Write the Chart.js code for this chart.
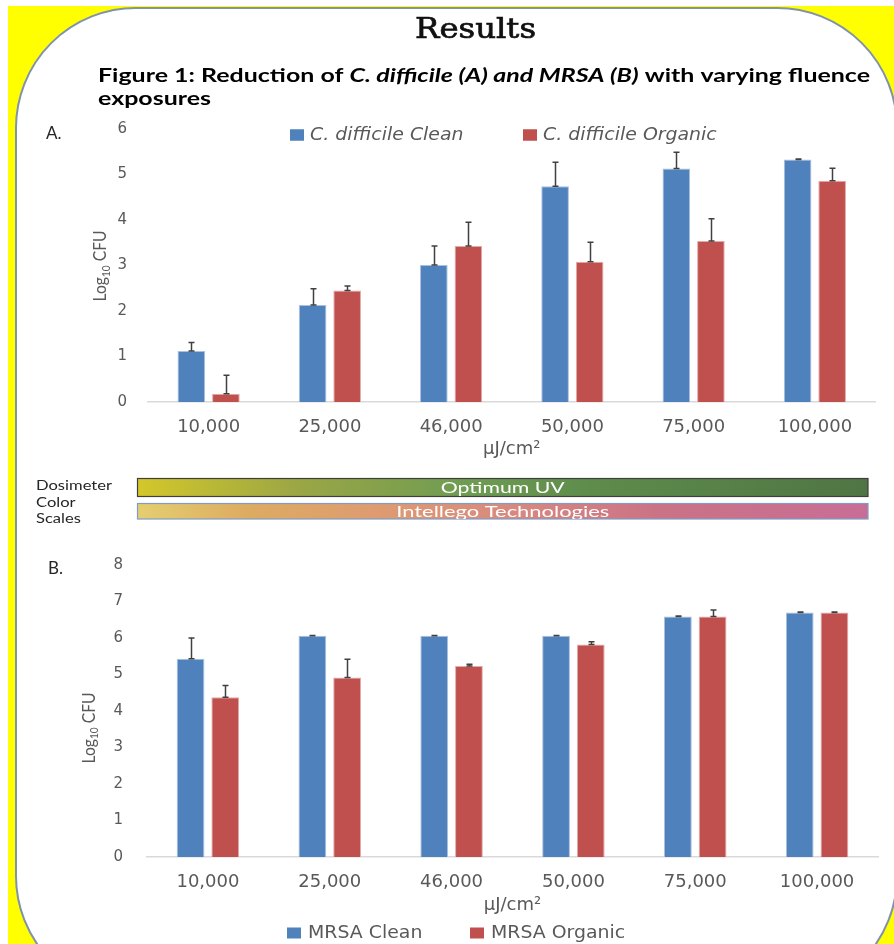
<!DOCTYPE html>
<html>
<head>
<meta charset="utf-8">
<title>Results – log reduction by fluence</title>
<script src="https://cdn.jsdelivr.net/npm/chart.js@4.4.1/dist/chart.umd.min.js"></script>
<style>
  html, body { margin: 0; padding: 0; background: #fff; }
  #page { position: relative; width: 894px; height: 944px; overflow: hidden; }
  canvas { position: absolute; left: 0; display: block; }
  #bg { top: 0; }
  #chartA { top: 110px; }
  #chartB { top: 550px; }
  .preload { position: absolute; left: -9999px; top: 0; font-family: Lato; }
</style>
</head>
<body>
<div id="page">
  <canvas id="bg" width="894" height="944"></canvas>
  <canvas id="chartA" width="894" height="352"></canvas>
  <canvas id="chartB" width="894" height="394"></canvas>
</div>
<span class="preload">Lato <b>Lato</b> <b><i>Lato</i></b></span>
<script>
// Fluence categories (µJ/cm²)
const fluenceLabels = ['10,000', '25,000', '46,000', '50,000', '75,000', '100,000'];

// Panel A – C. difficile, log10 CFU reduction (mean and +SD)
const cdiffClean      = [1.12, 2.13, 3.01, 4.74, 5.13, 5.33];
const cdiffCleanErr   = [0.19, 0.36, 0.42, 0.53, 0.36, 0.01];
const cdiffOrganic    = [0.18, 2.45, 3.43, 3.08, 3.54, 4.86];
const cdiffOrganicErr = [0.41, 0.10, 0.52, 0.43, 0.49, 0.28];

// Panel B – MRSA, log10 CFU reduction (mean and +SD)
const mrsaClean       = [5.43, 6.06, 6.06, 6.06, 6.59, 6.70];
const mrsaCleanErr    = [0.57, 0.01, 0.01, 0.01, 0.01, 0.01];
const mrsaOrganic     = [4.38, 4.92, 5.23, 5.82, 6.59, 6.70];
const mrsaOrganicErr  = [0.32, 0.50, 0.05, 0.08, 0.18, 0.01];

// Value axis ranges
const cdiffAxisMax = 6;
const mrsaAxisMax = 8;
const axisStep = 1;

const BLUE = '#4F81BD';
const RED = '#C0504D';
const GREY_TEXT = '#595959';

/* ---------- poster background, headings and dosimeter scales ---------- */
function drawBackground() {
  const c = document.getElementById('bg').getContext('2d');
  c.fillStyle = '#ffffff';
  c.fillRect(0, 0, 894, 944);
  c.fillStyle = '#FFFF00';
  c.fillRect(8, 6, 894, 944);

  // rounded white panel
  const x0 = 16, y0 = 8, x1 = 897, y1 = 996, r = 120;
  c.beginPath();
  c.moveTo(x0 + r, y0);
  c.lineTo(x1 - r, y0);
  c.arcTo(x1, y0, x1, y0 + r, r);
  c.lineTo(x1, y1 - r);
  c.arcTo(x1, y1, x1 - r, y1, r);
  c.lineTo(x0 + r, y1);
  c.arcTo(x0, y1, x0, y1 - r, r);
  c.lineTo(x0, y0 + r);
  c.arcTo(x0, y0, x0 + r, y0, r);
  c.closePath();
  c.fillStyle = '#ffffff';
  c.fill();
  c.lineWidth = 2;
  c.strokeStyle = '#8093AB';
  c.stroke();

  // text drawn into a fixed width
  function fitText(runs, x, y, width, color, outline) {
    let total = 0;
    runs.forEach(r => { c.font = r.font; r.w = c.measureText(r.text).width; total += r.w; });
    const s = width ? width / total : 1;
    c.save();
    c.translate(x, y);
    c.scale(s, 1);
    c.fillStyle = color;
    c.strokeStyle = color;
    c.lineWidth = outline || 0;
    c.textBaseline = 'alphabetic';
    let cx = 0;
    runs.forEach(r => {
      c.font = r.font;
      c.fillText(r.text, cx, 0);
      if (outline) c.strokeText(r.text, cx, 0);
      cx += r.w;
    });
    c.restore();
    return s;
  }

  fitText([{ text: 'Results', font: '28px "DejaVu Serif"' }], 415, 38, 121, '#111', 0.7);

  const capB = 'bold 18px Lato', capBI = 'italic bold 18px Lato';
  const s = fitText([
    { text: 'Figure 1: Reduction of ', font: capB },
    { text: 'C. difficile (A) and MRSA (B)', font: capBI },
    { text: ' with varying fluence', font: capB }
  ], 98, 82, 772, '#000');
  c.save();
  c.translate(98, 105);
  c.scale(s, 1);
  c.font = capB;
  c.fillStyle = '#000';
  c.fillText('exposures', 0, 0);
  c.restore();

  c.font = '17px Lato';
  c.fillStyle = '#262626';
  c.fillText('A.', 46, 139);
  c.fillText('B.', 48, 574);

  // dosimeter colour scales
  c.font = '13.5px Lato';
  const ds = 76 / c.measureText('Dosimeter').width;
  [['Dosimeter', 490], ['Color', 506.5], ['Scales', 523]].forEach(([t, y]) => {
    c.save(); c.translate(36, y); c.scale(ds, 1);
    c.fillStyle = '#262626'; c.fillText(t, 0, 0); c.restore();
  });

  const bx0 = 137.5, bx1 = 868;
  let g = c.createLinearGradient(bx0, 0, bx1, 0);
  g.addColorStop(0, '#D4C72A');
  g.addColorStop(0.22, '#9BA645');
  g.addColorStop(0.45, '#6E9C52');
  g.addColorStop(0.62, '#5E8C4B');
  g.addColorStop(1, '#4F7544');
  c.fillStyle = g;
  c.fillRect(bx0, 478.5, bx1 - bx0, 18);
  c.lineWidth = 1.2;
  c.strokeStyle = '#3F3F3F';
  c.strokeRect(bx0, 478.5, bx1 - bx0, 18);

  g = c.createLinearGradient(bx0, 0, bx1, 0);
  g.addColorStop(0, '#E4CF70');
  g.addColorStop(0.15, '#DDAB62');
  g.addColorStop(0.32, '#DE9C70');
  g.addColorStop(0.5, '#D98A7E');
  g.addColorStop(0.72, '#CA7286');
  g.addColorStop(1, '#C86E96');
  c.fillStyle = g;
  c.fillRect(bx0, 503.5, bx1 - bx0, 15.5);
  c.strokeStyle = '#7F9DC3';
  c.strokeRect(bx0, 503.5, bx1 - bx0, 15.5);

  const mid = (bx0 + bx1) / 2;
  fitText([{ text: 'Optimum UV', font: '16px Lato' }], mid - 62, 492.5, 124, '#ffffff');
  c.save();
  c.beginPath(); c.rect(bx0, 503.5, bx1 - bx0, 15.5); c.clip();
  fitText([{ text: 'Intellego Technologies', font: '16px Lato' }], mid - 106.5, 516.5, 213, '#ffffff');
  c.restore();
}

/* ---------- chart plugins ---------- */
// upward error bars (mean + SD) with caps
const errorBarPlugin = {
  id: 'errorBars',
  afterDatasetsDraw(chart, args, o) {
    const { ctx } = chart;
    const y = chart.scales.y;
    chart.data.datasets.forEach((ds, i) => {
      if (!ds.errorPlus) return;
      chart.getDatasetMeta(i).data.forEach((bar, j) => {
        const v = ds.data[j];
        const y0 = y.getPixelForValue(v);
        const y1 = y.getPixelForValue(v + ds.errorPlus[j]);
        const x = Math.round(bar.x) + 0.5;
        ctx.save();
        ctx.strokeStyle = o.color;
        ctx.lineWidth = o.width;
        ctx.beginPath();
        ctx.moveTo(x, y0); ctx.lineTo(x, y1);
        ctx.moveTo(x - o.cap, y1); ctx.lineTo(x + o.cap, y1);
        ctx.moveTo(x - o.cap, y0); ctx.lineTo(x + o.cap, y0);
        ctx.stroke();
        ctx.restore();
      });
    });
  }
};

// series key: coloured square + label
const seriesKeyPlugin = {
  id: 'seriesKey',
  afterDraw(chart, args, o) {
    const { ctx } = chart;
    ctx.save();
    ctx.font = o.font;
    ctx.textBaseline = 'middle';
    chart.data.datasets.forEach((ds, i) => {
      const x = o.x[i];
      ctx.fillStyle = ds.backgroundColor;
      ctx.fillRect(x, o.y - o.box[1] / 2, o.box[0], o.box[1]);
      ctx.save();
      ctx.translate(x + o.box[0] + o.gap, o.y);
      ctx.scale(o.stretch, 1);
      ctx.fillStyle = o.color;
      ctx.fillText(ds.label, 0, 0);
      ctx.restore();
    });
    ctx.restore();
  }
};

// vertical axis caption with subscript (Log10 CFU)
const axisCaptionPlugin = {
  id: 'axisCaption',
  afterDraw(chart, args, o) {
    const { ctx, chartArea } = chart;
    const cx = chartArea.left + o.dx;
    const cy = (chartArea.top + chartArea.bottom) / 2 + o.dy;
    const main = `${o.size}px ${o.family}`;
    const sub = `${Math.round(o.size * 0.64)}px ${o.family}`;
    ctx.save();
    ctx.font = main;
    const w1 = ctx.measureText(o.base).width;
    const w3 = ctx.measureText(o.unit).width;
    ctx.font = sub;
    const w2 = ctx.measureText(o.sub).width;
    const total = w1 + w2 + w3;
    ctx.translate(cx, cy);
    ctx.rotate(-Math.PI / 2);
    ctx.scale(o.length / total, 1);
    ctx.fillStyle = o.color;
    ctx.textBaseline = 'alphabetic';
    const base = o.size * 0.36;
    let x = -total / 2;
    ctx.font = main; ctx.fillText(o.base, x, base); x += w1;
    ctx.font = sub; ctx.fillText(o.sub, x, base + o.size * 0.22); x += w2;
    ctx.font = main; ctx.fillText(o.unit, x, base);
    ctx.restore();
  }
};

function makeChart(id, series, axisMax, geom) {
  const chart = new Chart(document.getElementById(id), {
    type: 'bar',
    data: {
      labels: fluenceLabels,
      datasets: series.map(s => ({
        label: s.label,
        data: s.data,
        errorPlus: s.err,
        backgroundColor: s.color,
        borderColor: s.edge,
        borderWidth: 1,
        categoryPercentage: 0.57,
        barPercentage: 0.8
      }))
    },
    options: {
      responsive: false,
      animation: false,
      devicePixelRatio: 1,
      layout: { padding: Object.assign({}, geom.padding) },
      scales: {
        x: {
          grid: { display: false, drawTicks: false },
          border: { display: true, color: '#D9D9D9', width: 1.5 },
          ticks: { color: GREY_TEXT, font: { family: 'DejaVu Sans', size: 18 }, padding: geom.xTickPad, maxRotation: 0 },
          title: { display: true, text: 'µJ/cm²', color: GREY_TEXT,
                   font: { family: 'DejaVu Sans', size: 18 }, padding: { top: 0, bottom: geom.xTitlePad } },
          afterFit(scale) { scale.height = geom.xHeight; }
        },
        y: {
          min: 0, max: axisMax,
          // hidden tick marks only set the gap between labels and the plot
          grid: { display: false, drawTicks: true, tickLength: geom.yTickGap },
          border: { display: false },
          ticks: { stepSize: axisStep, color: GREY_TEXT, font: { family: 'DejaVu Sans', size: 15 }, padding: 0 },
          afterFit(scale) { scale.width = geom.yWidth; }
        }
      },
      plugins: {
        legend: { display: false },
        tooltip: { enabled: false },
        errorBars: { color: '#404040', width: 1.5, cap: 3 },
        seriesKey: geom.key,
        axisCaption: {
          base: 'Log', sub: '10', unit: ' CFU', family: 'Lato', size: 17,
          length: 71, color: GREY_TEXT, dx: geom.captionDx, dy: geom.captionDy
        }
      }
    },
    plugins: [errorBarPlugin, seriesKeyPlugin, axisCaptionPlugin]
  });

  // nudge the layout padding until the plot area sits on the wanted frame
  const t = geom.area;
  for (let k = 0; k < 3; k++) {
    const a = chart.chartArea;
    const p = Object.assign({}, chart.config.options.layout.padding);
    p.top += t.top - a.top;
    p.bottom += a.bottom - t.bottom;
    p.left += t.left - a.left;
    p.right += a.right - t.right;
    chart.config.options.layout.padding = p;
    chart.update();
  }
  return chart;
}

function init() {
  drawBackground();

  makeChart('chartA', [
    { label: 'C. difficile Clean', data: cdiffClean, err: cdiffCleanErr, color: BLUE, edge: '#A9C0DE' },
    { label: 'C. difficile Organic', data: cdiffOrganic, err: cdiffOrganicErr, color: RED, edge: '#E2ABAA' }
  ], cdiffAxisMax, {
    padding: { left: 60, right: 18.5, top: 19, bottom: 0 },
    area: { left: 148, right: 875.5, top: 19, bottom: 292 },
    yWidth: 88, xHeight: 60, xTickPad: 15, xTitlePad: 2, yTickGap: 21,
    captionDx: -48, captionDy: 0.5,
    key: { x: [290, 523], y: 25, box: [14, 11.5], gap: 6, font: 'italic 18px "DejaVu Sans"', color: GREY_TEXT, stretch: 1.05 }
  });

  makeChart('chartB', [
    { label: 'MRSA Clean', data: mrsaClean, err: mrsaCleanErr, color: BLUE, edge: '#A9C0DE' },
    { label: 'MRSA Organic', data: mrsaOrganic, err: mrsaOrganicErr, color: RED, edge: '#E2ABAA' }
  ], mrsaAxisMax, {
    padding: { left: 60, right: 16, top: 15, bottom: 28 },
    area: { left: 147, right: 878, top: 15, bottom: 307 },
    yWidth: 87, xHeight: 59, xTickPad: 15, xTitlePad: 0, yTickGap: 24,
    captionDx: -58.5, captionDy: 17,
    key: { x: [287, 470], y: 383, box: [14, 11], gap: 7, font: '18px "DejaVu Sans"', color: GREY_TEXT, stretch: 1.05 }
  });
}

const fontJobs = ['17px Lato', 'bold 18px Lato', 'italic bold 18px Lato', '16px Lato', '13.5px Lato',
                  '28px "DejaVu Serif"', '18px "DejaVu Sans"', 'italic 18px "DejaVu Sans"']
  .map(f => document.fonts.load(f).catch(() => null));
Promise.all(fontJobs).then(init, init);
</script>
</body>
</html>
